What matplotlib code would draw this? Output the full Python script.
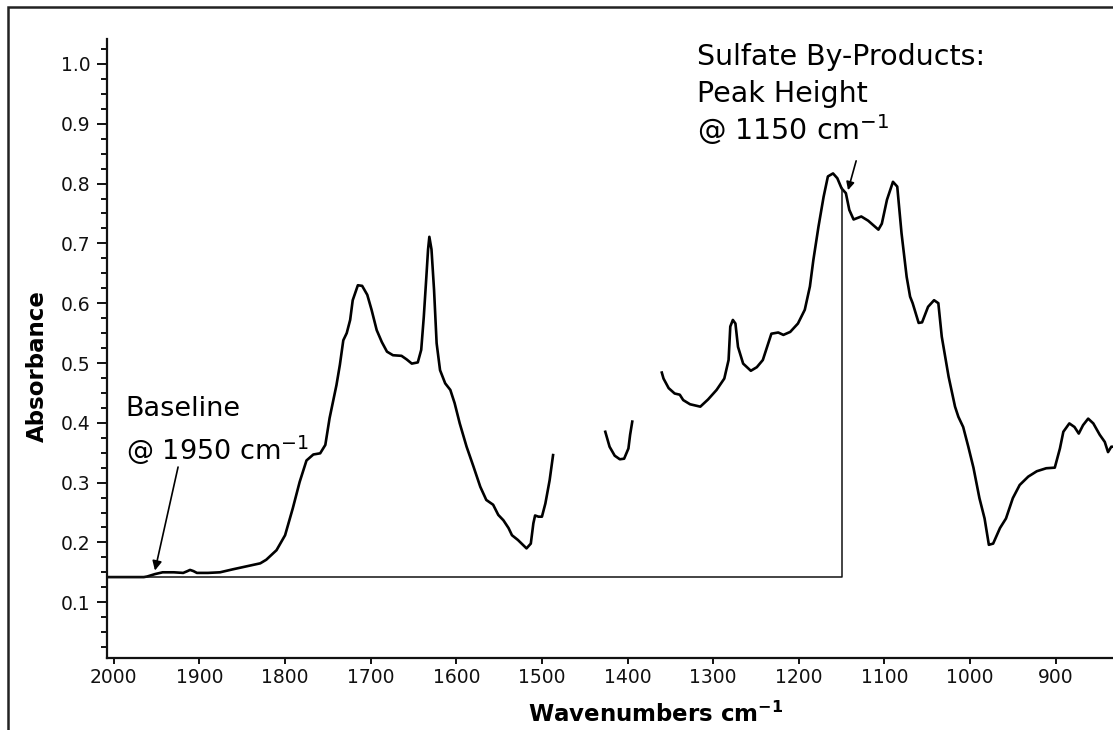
import matplotlib.pyplot as plt
import numpy as np
from matplotlib.ticker import MultipleLocator, FormatStrFormatter
from matplotlib.patches import Rectangle

# spectrum (wavenumber, absorbance), three unbroken pieces
seg1_wn = [2008, 1965, 1961, 1952, 1943, 1930, 1919, 1914, 1911, 1907, 1903, 1890, 1876,
           1861, 1845, 1829, 1822, 1810, 1800, 1791, 1783, 1775, 1767, 1759, 1753, 1748,
           1740, 1736, 1732, 1728, 1724, 1721, 1715, 1710, 1704, 1699, 1693, 1687, 1681,
           1674, 1664, 1658, 1652, 1645, 1641, 1638, 1635, 1633, 1631.5, 1629, 1626, 1623,
           1619, 1613, 1607, 1602, 1596, 1588, 1580, 1572, 1565, 1557, 1551, 1545, 1539,
           1535, 1528, 1518, 1513, 1510, 1508, 1504, 1500, 1496, 1491, 1487]
seg1_abs = [0.142, 0.142, 0.143, 0.147, 0.150, 0.150, 0.149, 0.152, 0.154, 0.152, 0.149, 0.149, 0.150,
            0.155, 0.160, 0.165, 0.171, 0.187, 0.212, 0.257, 0.301, 0.337, 0.347, 0.349, 0.363, 0.408,
            0.463, 0.497, 0.538, 0.550, 0.572, 0.605, 0.630, 0.629, 0.614, 0.589, 0.555, 0.535, 0.519,
            0.513, 0.512, 0.506, 0.499, 0.501, 0.522, 0.577, 0.644, 0.690, 0.711, 0.690, 0.622, 0.533,
            0.488, 0.466, 0.455, 0.433, 0.399, 0.360, 0.327, 0.293, 0.271, 0.263, 0.246, 0.237, 0.224,
            0.212, 0.204, 0.190, 0.198, 0.232, 0.245, 0.243, 0.243, 0.265, 0.304, 0.346]

seg2_wn = [1426, 1421, 1415, 1409, 1404, 1399, 1397, 1394.5]
seg2_abs = [0.385, 0.360, 0.345, 0.339, 0.340, 0.357, 0.380, 0.402]

seg3_wn = [1360, 1358, 1352, 1345, 1339, 1335, 1327, 1315, 1306, 1296, 1287, 1282, 1280,
           1277, 1274, 1271, 1265, 1256, 1249, 1242, 1237, 1232, 1224, 1218, 1210, 1201,
           1193, 1187, 1183, 1177, 1171, 1166, 1160, 1155, 1150, 1145, 1141, 1136, 1127,
           1119, 1107, 1103, 1097, 1090, 1085, 1080, 1074, 1070, 1067, 1060, 1056, 1049,
           1042, 1037, 1033, 1025, 1017.5, 1013.6, 1008, 1002, 996, 989, 983, 978, 973,
           965, 958, 950, 942, 932, 922, 911, 901, 895, 891, 884, 878, 873, 868, 862,
           856, 848.5, 842.6, 838.8, 835, 833]
seg3_abs = [0.484, 0.474, 0.458, 0.449, 0.447, 0.438, 0.431, 0.427, 0.439, 0.455, 0.474, 0.505, 0.561,
            0.572, 0.566, 0.527, 0.499, 0.487, 0.493, 0.505, 0.527, 0.549, 0.551, 0.547, 0.552, 0.566,
            0.589, 0.628, 0.672, 0.728, 0.778, 0.812, 0.817, 0.809, 0.792, 0.784, 0.756, 0.740, 0.745,
            0.738, 0.723, 0.733, 0.773, 0.803, 0.795, 0.717, 0.644, 0.611, 0.600, 0.567, 0.568, 0.594,
            0.605, 0.600, 0.544, 0.477, 0.427, 0.410, 0.393, 0.360, 0.325, 0.274, 0.240, 0.196, 0.198,
            0.224, 0.240, 0.274, 0.296, 0.310, 0.319, 0.324, 0.325, 0.357, 0.385, 0.399, 0.393, 0.382, 0.396, 0.407,
            0.399, 0.380, 0.368, 0.351, 0.360, 0.360]

# baseline / peak height construction
baseline_wn = 1950
baseline_abs = 0.142
peak_wn = 1150
peak_abs = 0.792

x_ticks = [2000, 1900, 1800, 1700, 1600, 1500, 1400, 1300, 1200, 1100, 1000, 900]
y_ticks = [0.1, 0.2, 0.3, 0.4, 0.5, 0.6, 0.7, 0.8, 0.9, 1.0]

plt.rcParams['font.family'] = ['DejaVu Sans']

fig = plt.figure(figsize=(11.13, 7.30), dpi=100)
ax = fig.add_axes([107 / 1113, 72 / 730, 1 - 107 / 1113, 619 / 730])

for wn, ab in [(seg1_wn, seg1_abs), (seg2_wn, seg2_abs), (seg3_wn, seg3_abs)]:
    ax.plot(wn, ab, color='black', lw=1.9, solid_joinstyle='round')

ax.set_xlim(2008, 833)
ax.set_ylim(0.0067, 1.0418)

# horizontal baseline and vertical peak-height line
ax.plot([2008, peak_wn, peak_wn], [baseline_abs, baseline_abs, peak_abs],
        color='#111111', lw=1.1)

ax.spines['top'].set_visible(False)
ax.spines['right'].set_visible(False)
for s in ['left', 'bottom']:
    ax.spines[s].set_linewidth(1.6)
    ax.spines[s].set_color('#111111')

ax.set_xticks(x_ticks)
ax.set_yticks(y_ticks)
ax.yaxis.set_major_formatter(FormatStrFormatter('%.1f'))
ax.yaxis.set_minor_locator(MultipleLocator(0.025))
ax.tick_params(axis='y', which='major', direction='out', length=7, width=1.4,
               labelsize=13.5, pad=5, colors='#111111')
ax.tick_params(axis='y', which='minor', direction='out', length=4.5, width=1.4, colors='#111111')
ax.tick_params(axis='x', which='major', direction='out', length=4.5, width=1.4,
               labelsize=13.5, pad=3, colors='#111111')

fig.text(37 / 1113, 1 - 366 / 730, 'Absorbance', rotation=90, fontsize=16.5,
         fontweight='bold', ha='center', va='center')
fig.text(656 / 1113, 1 - 722 / 730, r'Wavenumbers cm$^{\mathregular{-1}}$', fontsize=16.5,
         fontweight='bold', ha='center', va='baseline')

# annotations
ax.text(1986, 0.411, 'Baseline', fontsize=19.5, ha='left', va='baseline')
ax.text(1986, 0.338, r'@ 1950 cm$^{\mathregular{-1}}$', fontsize=19.5, ha='left', va='baseline')
ax.annotate('', xy=(baseline_wn + 2, 0.153), xytext=(1925, 0.326),
            arrowprops=dict(arrowstyle='-|>', color='black', lw=1.2,
                            mutation_scale=14, shrinkA=0, shrinkB=0))

ax.text(1319, 0.998, 'Sulfate By-Products:', fontsize=20.5, ha='left', va='baseline')
ax.text(1319, 0.936, 'Peak Height', fontsize=20.5, ha='left', va='baseline')
ax.text(1319, 0.873, r'@ 1150 cm$^{\mathregular{-1}}$', fontsize=20.5, ha='left', va='baseline')
ax.annotate('', xy=(1142.5, 0.789), xytext=(1133, 0.838),
            arrowprops=dict(arrowstyle='-|>', color='black', lw=1.2,
                            mutation_scale=12, shrinkA=0, shrinkB=0))

# frame round the figure (only left and top edges are in view)
fig.patches.append(Rectangle((8 / 1113, -0.1), 1.2, 1.1 - 7 / 730, transform=fig.transFigure,
                             fill=False, lw=1.8, edgecolor='#222222', clip_on=False))

fig.savefig('out.png', dpi=100)
